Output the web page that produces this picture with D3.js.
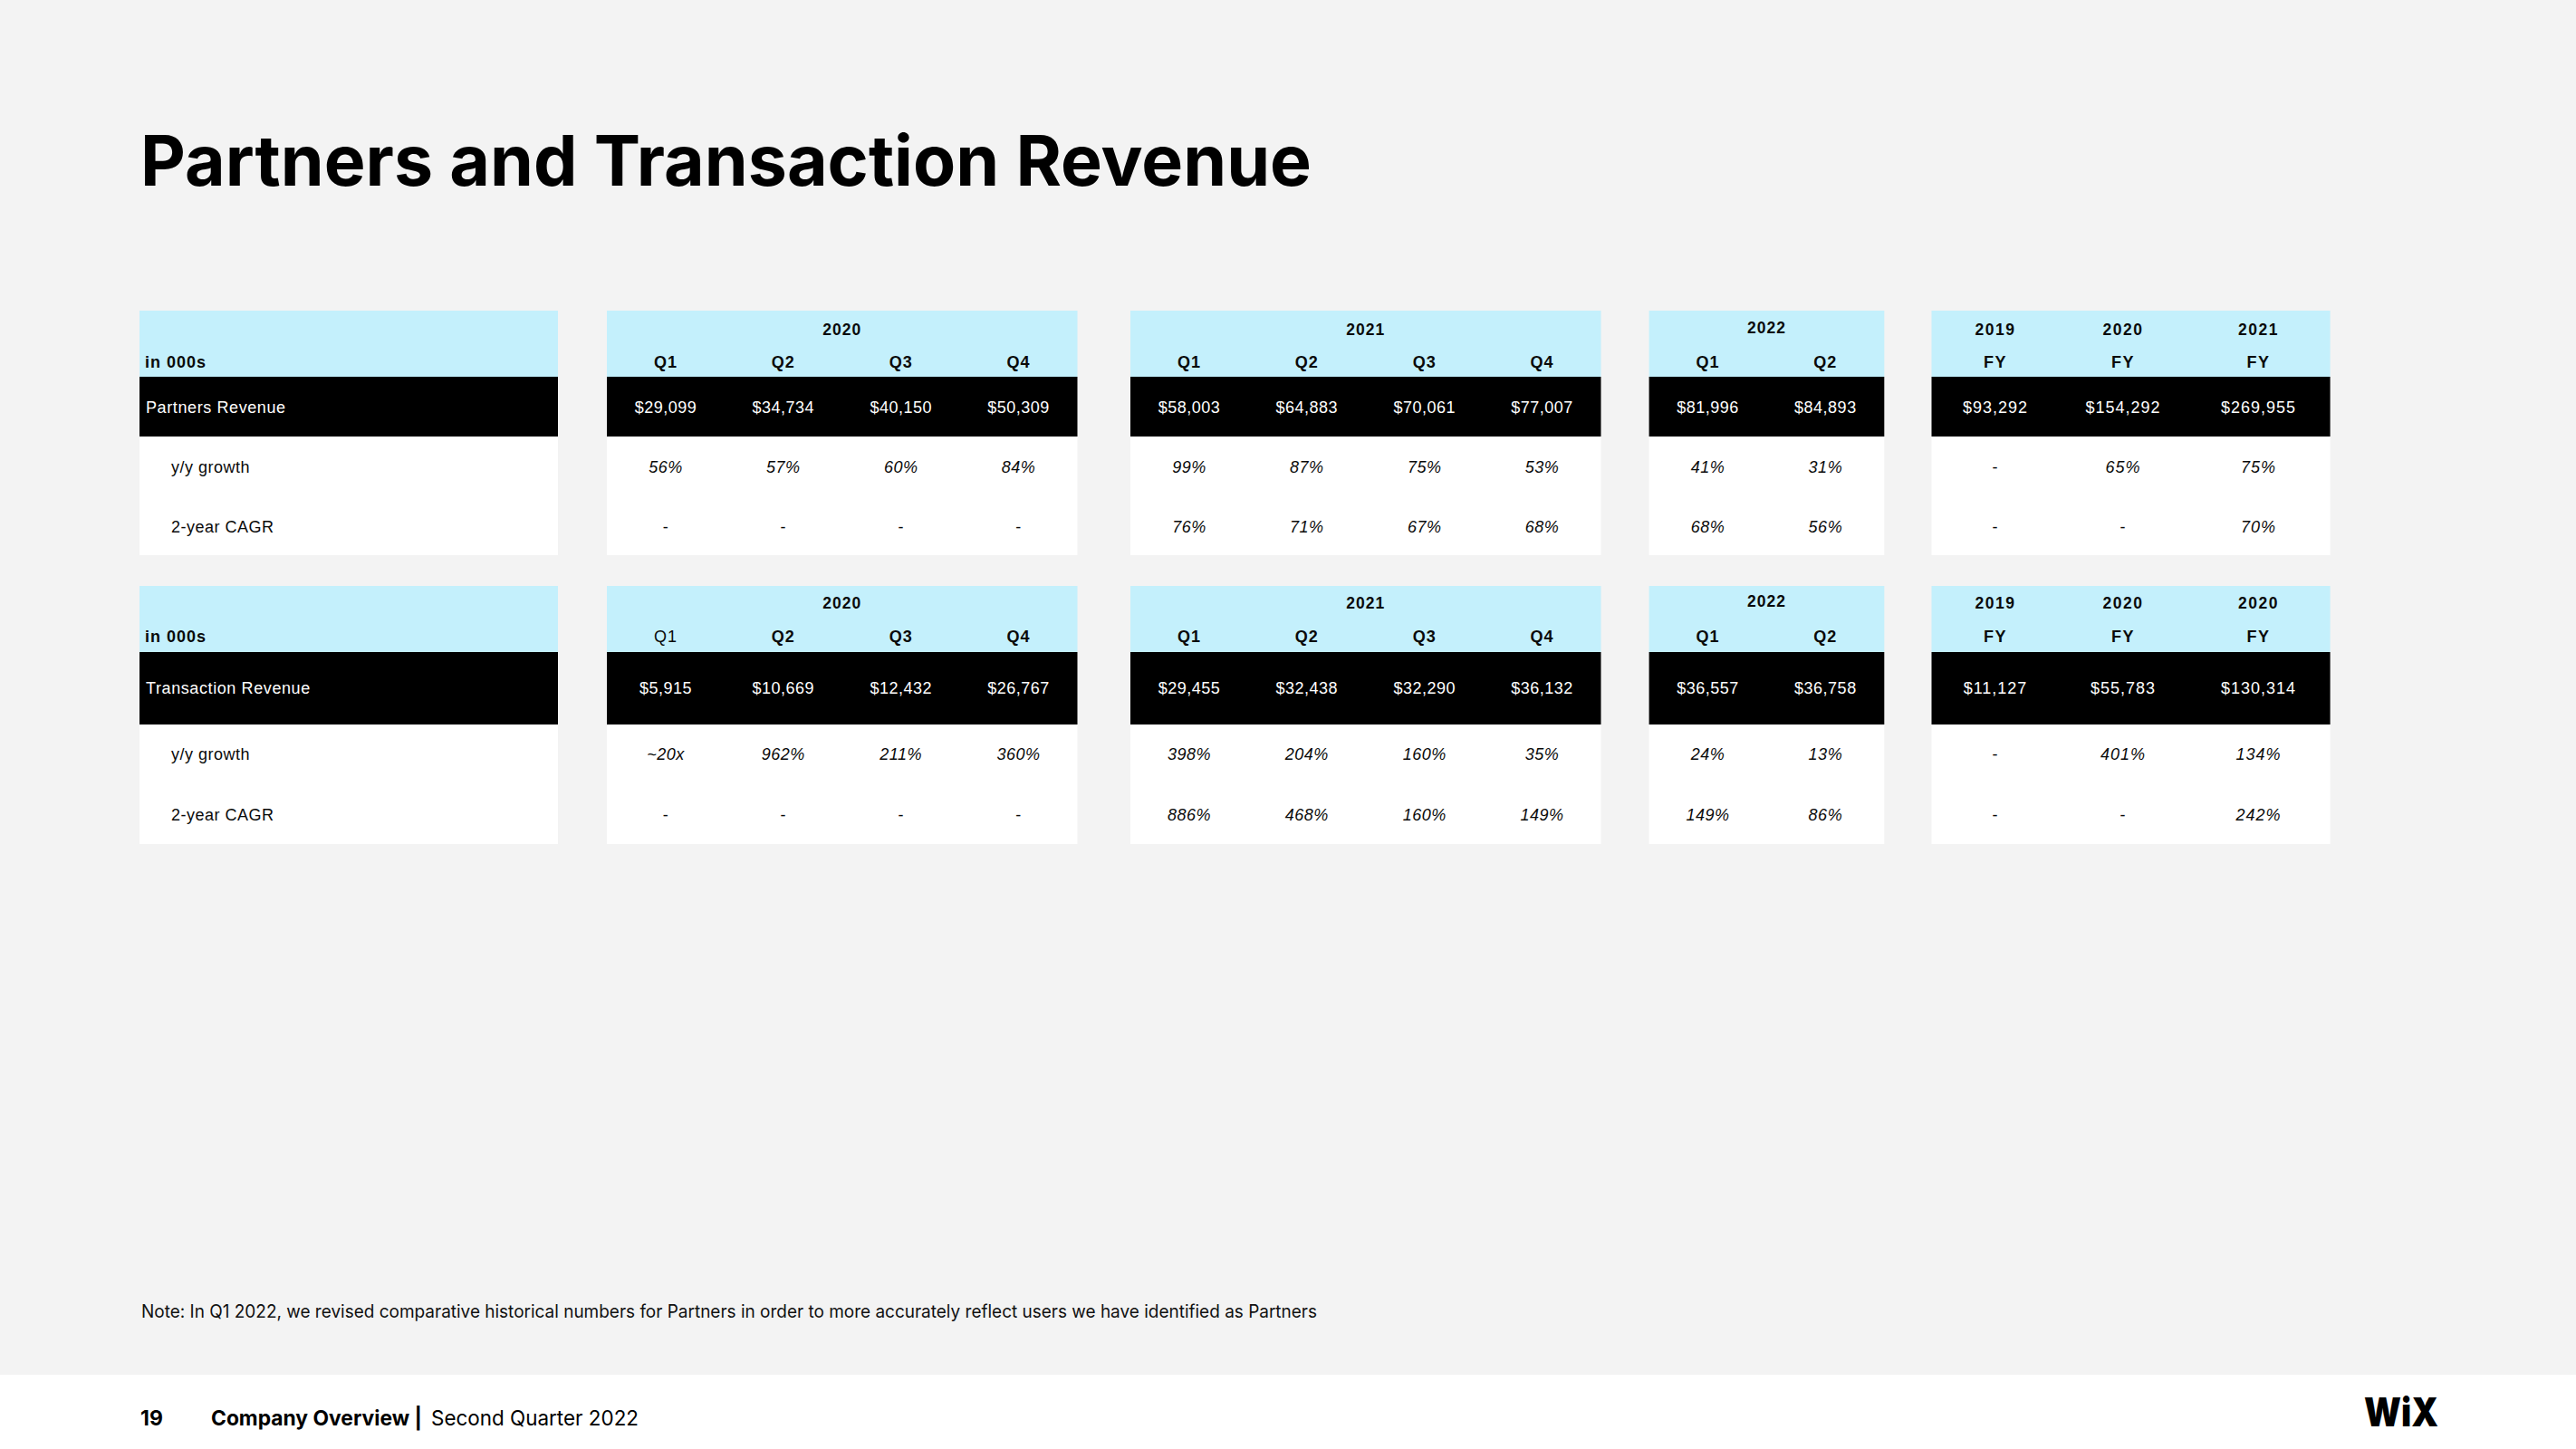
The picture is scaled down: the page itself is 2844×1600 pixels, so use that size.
<!DOCTYPE html>
<html><head><meta charset="utf-8">
<script src="https://cdn.jsdelivr.net/npm/d3@7"></script>
<style>html,body{margin:0;padding:0;background:#f3f3f3;}svg{display:block;}</style>
</head><body>
<script>
// ---------------- DATA ----------------
const title = "Partners and Transaction Revenue";
const unitLabel = "in 000s";
const yearGroups = ["2020", "2021", "2022"];
const quarterLabels = [["Q1","Q2","Q3","Q4"], ["Q1","Q2","Q3","Q4"], ["Q1","Q2"]];
const fyLabel = "FY";
const fyYearsPartners = ["2019", "2020", "2021"];
const fyYearsTransaction = ["2019", "2020", "2020"];
const partnersRowLabels = ["Partners Revenue", "y/y growth", "2-year CAGR"];
const transactionRowLabels = ["Transaction Revenue", "y/y growth", "2-year CAGR"];

// quarterly: 2020 Q1..Q4, 2021 Q1..Q4, 2022 Q1..Q2
const partnersRevenueQ = [29099, 34734, 40150, 50309, 58003, 64883, 70061, 77007, 81996, 84893];
const partnersGrowthQ  = [56, 57, 60, 84, 99, 87, 75, 53, 41, 31];
const partnersCagrQ    = [null, null, null, null, 76, 71, 67, 68, 68, 56];
const partnersRevenueFY = [93292, 154292, 269955];
const partnersGrowthFY  = [null, 65, 75];
const partnersCagrFY    = [null, null, 70];

const transactionRevenueQ = [5915, 10669, 12432, 26767, 29455, 32438, 32290, 36132, 36557, 36758];
const transactionGrowthQ  = ["~20x", 962, 211, 360, 398, 204, 160, 35, 24, 13];
const transactionCagrQ    = [null, null, null, null, 886, 468, 160, 149, 149, 86];
const transactionRevenueFY = [11127, 55783, 130314];
const transactionGrowthFY  = [null, 401, 134];
const transactionCagrFY    = [null, null, 242];

const noteText = "Note: In Q1 2022, we revised comparative historical numbers for Partners in order to more accurately reflect users we have identified as Partners";
const pageNumber = "19";
const footerBold = "Company Overview |";
const footerRegular = "Second Quarter 2022";
const logoText = "WiX";

// ---------------- LAYOUT ----------------
const W = 2844, H = 1600;
const C = { bg:"#f3f3f3", hdr:"#c4f0fc", black:"#000000", white:"#ffffff", ink:"#0a0a0a" };
const TF = "'Liberation Sans', Arial, sans-serif";
const DF = "Inter, 'Open Sans', sans-serif";

const labelPanel = [154, 616];
const quarterPanels = [[670, 1189.5], [1248, 1767.5], [1820.6, 2080.3]];
const fyPanel = [2132.5, 2572.6];
const fyWeights = [141, 141, 158];

const tableLayouts = [
  { top:343, hdr:416, blk:482, bot:613, yearY:364, qY:400, rowY:[450, 516, 582] },
  { top:647, hdr:720, blk:800, bot:932, yearY:666, qY:703, rowY:[760, 833, 900] }
];

const fmtMoney = d3.format("$,.0f");
const fmtPct = v => v == null ? "-" : (typeof v === "string" ? v : v + "%");

const svg = d3.select("body").append("svg").attr("width", W).attr("height", H);
svg.append("rect").attr("width", W).attr("height", H).attr("fill", C.bg);
svg.append("rect").attr("x", 0).attr("y", 1518).attr("width", W).attr("height", H - 1518).attr("fill", C.white);

// Title
svg.append("text").text(title)
  .attr("x", 155).attr("y", 205)
  .attr("font-family", DF).attr("font-weight", 700).attr("font-size", 77)
  .attr("fill", "#000").attr("textLength", 1293).attr("lengthAdjust", "spacingAndGlyphs");

function txt(g, s, x, yc, opt) {
  const fs = opt.size || 18;
  const t = g.append("text").text(s)
    .attr("x", x).attr("y", yc + 0.36 * fs)
    .attr("font-family", TF).attr("font-size", fs)
    .attr("font-weight", opt.weight || 400)
    .attr("font-style", opt.italic ? "italic" : "normal")
    .attr("letter-spacing", opt.ls != null ? opt.ls : 0.5)
    .attr("text-anchor", opt.anchor || "middle")
    .attr("fill", opt.fill || C.ink);
  return t;
}

function panelBg(g, x0, x1, L) {
  g.append("rect").attr("x", x0).attr("y", L.top).attr("width", x1 - x0).attr("height", L.hdr - L.top).attr("fill", C.hdr);
  g.append("rect").attr("x", x0).attr("y", L.hdr).attr("width", x1 - x0).attr("height", L.blk - L.hdr).attr("fill", C.black);
  g.append("rect").attr("x", x0).attr("y", L.blk).attr("width", x1 - x0).attr("height", L.bot - L.blk).attr("fill", C.white);
}

function drawTable(ti, rowLabels, revQ, growQ, cagrQ, revFY, growFY, cagrFY, fyYears) {
  const L = tableLayouts[ti];
  const g = svg.append("g");
  const rowY = d3.scaleOrdinal().domain([0, 1, 2]).range(L.rowY);

  // label panel
  panelBg(g, labelPanel[0], labelPanel[1], L);
  txt(g, unitLabel, labelPanel[0] + 6, L.qY, { weight: 700, anchor: "start", ls: 1 });
  rowLabels.forEach((lab, i) => {
    txt(g, lab, labelPanel[0] + (i === 0 ? 7 : 35), rowY(i), { anchor: "start", fill: i === 0 ? "#fff" : C.ink, ls: i === 0 ? 0.6 : 0.5 });
  });

  // quarterly panels
  let offset = 0;
  quarterPanels.forEach((px, pi) => {
    const labels = quarterLabels[pi];
    const idx = labels.map((_, i) => offset + i);
    panelBg(g, px[0], px[1], L);
    const x = d3.scaleBand().domain(idx).range(px);
    txt(g, yearGroups[pi], (px[0] + px[1]) / 2, L.yearY + (pi === 2 ? -2 : 0), { weight: 700, size: 17.5, ls: 1 });
    idx.forEach((k, i) => {
      const cx = x(k) + x.bandwidth() / 2;
      const plainQ = (ti === 1 && pi === 0 && i === 0);
      txt(g, labels[i], cx, L.qY, { weight: plainQ ? 400 : 700, ls: 1 });
      txt(g, fmtMoney(revQ[k]), cx, rowY(0), { fill: "#fff" });
      const gv = growQ[k], cv = cagrQ[k];
      txt(g, fmtPct(gv), cx, rowY(1), { italic: gv != null });
      txt(g, fmtPct(cv), cx, rowY(2), { italic: cv != null });
    });
    offset += labels.length;
  });

  // FY panel
  panelBg(g, fyPanel[0], fyPanel[1], L);
  const cum = d3.cumsum(fyWeights);
  const total = cum[cum.length - 1];
  const fx = d3.scaleLinear().domain([0, total]).range(fyPanel);
  fyYears.forEach((yr, i) => {
    const cx = fx(cum[i] - fyWeights[i] / 2);
    txt(g, yr, cx, L.yearY, { weight: 700, size: 17.5, ls: 1.5 });
    txt(g, fyLabel, cx, L.qY, { weight: 700, ls: 1.5 });
    txt(g, fmtMoney(revFY[i]), cx, rowY(0), { fill: "#fff", ls: 1 });
    txt(g, fmtPct(growFY[i]), cx, rowY(1), { italic: growFY[i] != null, ls: 1 });
    txt(g, fmtPct(cagrFY[i]), cx, rowY(2), { italic: cagrFY[i] != null, ls: 1 });
  });
}

drawTable(0, partnersRowLabels, partnersRevenueQ, partnersGrowthQ, partnersCagrQ, partnersRevenueFY, partnersGrowthFY, partnersCagrFY, fyYearsPartners);
drawTable(1, transactionRowLabels, transactionRevenueQ, transactionGrowthQ, transactionCagrQ, transactionRevenueFY, transactionGrowthFY, transactionCagrFY, fyYearsTransaction);

// Note
svg.append("text").text(noteText)
  .attr("x", 156).attr("y", 1455)
  .attr("font-family", DF).attr("font-size", 20).attr("fill", "#111")
  .attr("textLength", 1298).attr("lengthAdjust", "spacingAndGlyphs");

// Footer
svg.append("text").text(pageNumber)
  .attr("x", 155).attr("y", 1574)
  .attr("font-family", DF).attr("font-weight", 700).attr("font-size", 23).attr("fill", "#000");
svg.append("text").text(footerBold)
  .attr("x", 233).attr("y", 1574)
  .attr("font-family", DF).attr("font-weight", 700).attr("font-size", 23).attr("fill", "#000")
  .attr("textLength", 233).attr("lengthAdjust", "spacingAndGlyphs");
svg.append("text").text(footerRegular)
  .attr("x", 476).attr("y", 1574)
  .attr("font-family", DF).attr("font-weight", 400).attr("font-size", 23).attr("fill", "#000")
  .attr("textLength", 229).attr("lengthAdjust", "spacingAndGlyphs");

// Logo
svg.append("text").text(logoText)
  .attr("x", 2610).attr("y", 1575)
  .attr("font-family", DF).attr("font-weight", 900).attr("font-size", 44).attr("fill", "#000")
  .attr("textLength", 82).attr("lengthAdjust", "spacingAndGlyphs");
</script>
</body></html>
